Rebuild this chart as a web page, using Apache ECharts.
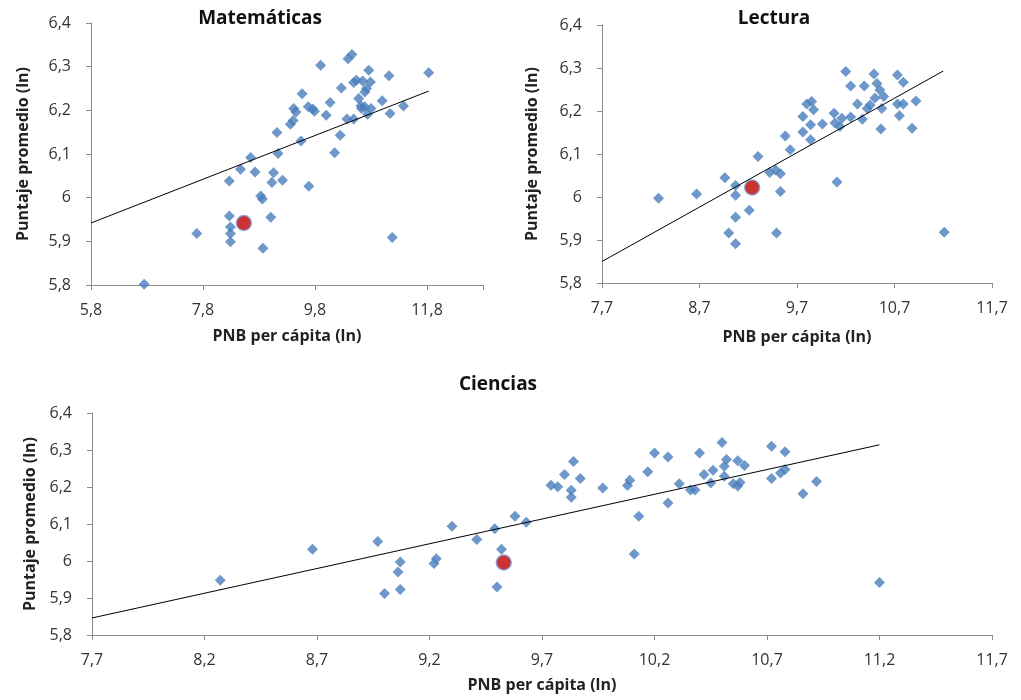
<!DOCTYPE html>
<html>
<head>
<meta charset="utf-8">
<script src="https://cdn.jsdelivr.net/npm/echarts@6/dist/echarts.min.js"></script>
<style>
  html, body { margin: 0; padding: 0; background: #fff; }
  #chart { width: 1021px; height: 700px; }
</style>
</head>
<body>
<div id="chart"></div>
<script>
// puntos [PNB per cápita (ln), puntaje promedio (ln)]
const mathPts = [
  [6.75,5.802],[7.69,5.918],[8.27,6.038],[8.27,5.958],[8.29,5.933],[8.29,5.918],[8.29,5.899],
  [8.47,6.065],[8.65,6.092],[8.73,6.059],[8.83,6.004],[8.86,5.997],[8.87,5.884],[9.01,5.955],
  [9.03,6.035],[9.06,6.057],[9.14,6.101],[9.12,6.149],[9.22,6.04],[9.36,6.168],[9.41,6.177],
  [9.42,6.204],[9.46,6.196],[9.55,6.13],[9.57,6.238],[9.68,6.208],[9.69,6.026],[9.76,6.203],
  [9.79,6.198],[9.90,6.303],[10.0,6.189],[10.07,6.218],[10.15,6.103],[10.25,6.143],[10.27,6.251],
  [10.37,6.18],[10.39,6.318],[10.46,6.328],[10.49,6.18],[10.49,6.264],[10.54,6.269],[10.58,6.227],
  [10.63,6.204],[10.65,6.267],[10.69,6.242],[10.72,6.25],[10.74,6.191],[10.76,6.292],[10.79,6.265],
  [10.8,6.204],[10.69,6.208],[10.62,6.21],[11.0,6.222],[11.12,6.279],[11.14,6.193],[11.18,5.909],
  [11.38,6.21],[11.83,6.286]
];
const mathRed = [[8.53,5.942]];
const mathTrend = [[5.8,5.942],[11.83,6.244]];

const lectPts = [
  [8.28,5.997],[8.67,6.007],[8.96,6.045],[9.07,6.027],[9.07,6.004],[9.07,5.953],[9.0,5.916],
  [9.07,5.891],[9.21,5.969],[9.30,6.094],[9.42,6.057],[9.48,6.063],[9.53,6.054],[9.53,6.013],
  [9.49,5.916],[9.58,6.142],[9.63,6.110],[9.76,6.187],[9.76,6.151],[9.80,6.216],[9.85,6.222],
  [9.87,6.203],[9.84,6.168],[9.84,6.133],[9.96,6.17],[10.08,6.195],[10.09,6.172],[10.14,6.164],
  [10.16,6.183],[10.11,6.035],[10.20,6.292],[10.25,6.258],[10.25,6.186],[10.32,6.216],[10.37,6.181],
  [10.39,6.258],[10.42,6.206],[10.45,6.214],[10.49,6.286],[10.52,6.264],[10.50,6.23],[10.55,6.249],
  [10.59,6.234],[10.57,6.206],[10.56,6.158],[10.73,6.284],[10.73,6.216],[10.75,6.189],[10.79,6.267],
  [10.79,6.216],[10.88,6.16],[10.92,6.223],[11.21,5.918]
];
const lectRed = [[9.24,6.022]];
const lectTrend = [[7.7,5.85],[11.2,6.293]];

const cienPts = [
  [8.27,5.948],[8.68,6.032],[8.97,6.053],[9.0,5.912],[9.06,5.970],[9.07,5.997],[9.07,5.923],
  [9.22,5.993],[9.23,6.006],[9.30,6.094],[9.41,6.058],[9.49,6.087],[9.50,5.930],[9.52,6.032],
  [9.58,6.121],[9.63,6.105],[9.74,6.205],[9.77,6.201],[9.80,6.234],[9.83,6.191],[9.83,6.172],
  [9.84,6.269],[9.87,6.223],[9.97,6.197],[10.09,6.218],[10.08,6.204],[10.11,6.019],[10.13,6.121],
  [10.17,6.241],[10.20,6.292],[10.26,6.157],[10.26,6.281],[10.31,6.209],[10.36,6.192],[10.38,6.192],
  [10.40,6.292],[10.42,6.234],[10.45,6.211],[10.46,6.245],[10.50,6.32],[10.51,6.256],[10.51,6.229],
  [10.52,6.274],[10.55,6.209],[10.57,6.203],[10.58,6.212],[10.57,6.271],[10.60,6.258],[10.72,6.31],
  [10.72,6.223],[10.76,6.238],[10.78,6.247],[10.78,6.295],[10.86,6.182],[10.92,6.215],[11.20,5.942]
];
const cienRed = [[9.53,5.996]];
const cienTrend = [[7.7,5.846],[11.2,6.314]];

const titles = ["Matemáticas", "Lectura", "Ciencias"];
const xName = "PNB per cápita (ln)";
const yName = "Puntaje promedio (ln)";

const FONT = "'Open Sans', sans-serif";
const fmt = (v) => String(+(+v).toFixed(1)).replace(".", ",");

function xAxis(grid, min, max, interval, nameGap, lastLabel) {
  return {
    type: "value", gridIndex: grid, min, max, interval,
    name: xName, nameLocation: "middle", nameGap,
    nameTextStyle: { fontFamily: FONT, fontWeight: "bold", fontSize: 16, color: "#222" },
    axisLine: { lineStyle: { color: "#8c8c8c", width: 1 } },
    axisTick: { show: true, length: 5, lineStyle: { color: "#8c8c8c" } },
    axisLabel: {
      margin: 17, fontFamily: FONT, fontSize: 16, color: "#333",
      formatter: (v) => (v > lastLabel + 1e-6 ? "" : fmt(v)),
    },
    splitLine: { show: false },
  };
}

function yAxis(grid, nameGap) {
  return {
    type: "value", gridIndex: grid, min: 5.8, max: 6.4, interval: 0.1,
    name: yName, nameLocation: "middle", nameGap, nameRotate: 90,
    nameTextStyle: { fontFamily: FONT, fontWeight: "bold", fontSize: 16, color: "#222" },
    axisLine: { show: true, lineStyle: { color: "#8c8c8c", width: 1 } },
    axisTick: { show: true, length: 5, lineStyle: { color: "#8c8c8c" } },
    axisLabel: { margin: 20, fontFamily: FONT, fontSize: 16, color: "#333", formatter: fmt },
    splitLine: { show: false },
  };
}

function seriesFor(i, pts, red, trend) {
  return [
    {
      type: "scatter", xAxisIndex: i, yAxisIndex: i, data: pts,
      symbol: "diamond", symbolSize: 11,
      itemStyle: { color: "#4a7ebb" }, z: 2,
    },
    {
      type: "scatter", xAxisIndex: i, yAxisIndex: i, data: red,
      symbol: "circle", symbolSize: 15,
      itemStyle: { color: "#c00000", borderColor: "#7d9fd3", borderWidth: 1.5 }, z: 3,
    },
    {
      type: "line", xAxisIndex: i, yAxisIndex: i, data: trend,
      showSymbol: false, symbol: "none",
      lineStyle: { color: "#000", width: 1 }, z: 4, silent: true,
    },
  ];
}

const chart = echarts.init(document.getElementById("chart"));
chart.setOption({
  animation: false,
  backgroundColor: "#fff",
  title: [
    { text: titles[0], left: 255, top: 4, textAlign: "center" },
    { text: titles[1], left: 769, top: 4, textAlign: "center" },
    { text: titles[2], left: 493, top: 370, textAlign: "center" },
  ].map((t) => ({
    ...t,
    textStyle: { fontFamily: FONT, fontWeight: "bold", fontSize: 19, color: "#111" },
  })),
  grid: [
    { left: 91, top: 23, width: 392, height: 262 },
    { left: 602, top: 25, width: 390, height: 258 },
    { left: 92, top: 413, width: 900, height: 222 },
  ],
  xAxis: [
    xAxis(0, 5.8, 12.8, 2, 43, 11.8),
    xAxis(1, 7.7, 11.7, 1, 46, 11.7),
    xAxis(2, 7.7, 11.7, 0.5, 42, 11.7),
  ],
  yAxis: [yAxis(0, 60), yAxis(1, 62), yAxis(2, 50)],
  series: [
    ...seriesFor(0, mathPts, mathRed, mathTrend),
    ...seriesFor(1, lectPts, lectRed, lectTrend),
    ...seriesFor(2, cienPts, cienRed, cienTrend),
  ],
});
</script>
</body>
</html>
